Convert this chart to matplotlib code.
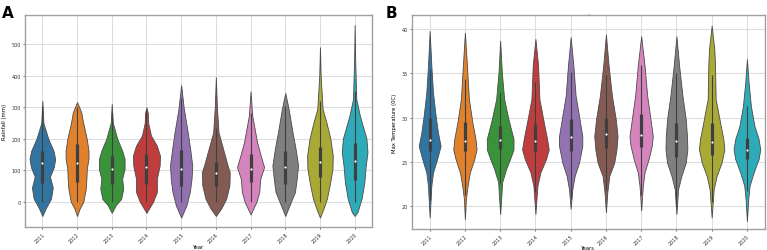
import numpy as np
import matplotlib
matplotlib.use("Agg")
import matplotlib.pyplot as plt

years = ["2011", "2012", "2013", "2014", "2015", "2016", "2017", "2018", "2019", "2020"]
colors = ["#3274a1", "#e1812c", "#3a923a", "#c03d3e", "#9372b2",
          "#845b53", "#d684bd", "#7f7f7f", "#a9aa35", "#2eabb8"]

# ---- Panel A: rainfall density profiles (value, half-width) ----
rain_levels = [
    [-45, -20, 10, 45, 80, 110, 136, 162, 200, 250, 320],
    [-45, -20, 0, 41, 73, 104, 136, 162, 199, 253, 284, 316],
    [-35, -10, 9, 41, 73, 104, 136, 162, 199, 250, 310],
    [-35, 0, 31, 73, 115, 146, 178, 210, 250, 280, 300],
    [-50, -12, 31, 73, 115, 167, 220, 295, 370],
    [-45, -22, 10, 52, 94, 115, 167, 220, 300, 395],
    [-40, 0, 31, 73, 110, 136, 188, 273, 350],
    [-45, -12, 31, 73, 115, 167, 220, 295, 345],
    [-50, -22, 10, 52, 104, 146, 200, 250, 294, 400, 490],
    [-45, -33, 10, 62, 115, 157, 200, 273, 325, 450, 560],
]
rain_widths = [
    [0, 0.10, 0.25, 0.30, 0.22, 0.33, 0.37, 0.32, 0.17, 0.03, 0],
    [0, 0.08, 0.18, 0.25, 0.27, 0.28, 0.33, 0.33, 0.28, 0.17, 0.12, 0],
    [0, 0.12, 0.27, 0.33, 0.30, 0.37, 0.37, 0.30, 0.16, 0.03, 0],
    [0, 0.19, 0.30, 0.30, 0.38, 0.39, 0.30, 0.13, 0.05, 0.04, 0],
    [0, 0.15, 0.25, 0.30, 0.32, 0.26, 0.19, 0.077, 0],
    [0, 0.15, 0.30, 0.39, 0.40, 0.34, 0.21, 0.077, 0.03, 0],
    [0, 0.17, 0.25, 0.28, 0.39, 0.32, 0.19, 0.048, 0],
    [0, 0.12, 0.28, 0.33, 0.37, 0.30, 0.21, 0.096, 0],
    [0, 0.10, 0.20, 0.28, 0.36, 0.37, 0.30, 0.19, 0.077, 0.02, 0],
    [0, 0.08, 0.20, 0.28, 0.32, 0.37, 0.34, 0.15, 0.048, 0.015, 0],
]
rain_q1 = [60, 62, 55, 55, 50, 50, 62, 57, 78, 70]
rain_med = [122, 123, 105, 110, 105, 90, 105, 110, 125, 130]
rain_q3 = [160, 183, 145, 150, 165, 125, 150, 160, 175, 185]
rain_wlo = [0, 0, 0, 0, 0, 0, 0, 0, 0, 0]
rain_whi = [300, 300, 280, 290, 330, 235, 280, 305, 320, 350]

# ---- Panel B: max temperature density profiles ----
temp_levels = [
    [18.7, 20.8, 22.3, 23.8, 25.3, 26.8, 28.3, 30.2, 32.8, 35.9, 39.8],
    [18.5, 20.8, 22.3, 23.8, 25.3, 26.4, 27.6, 29.5, 32.1, 35.9, 39.6],
    [19.1, 20.8, 22.7, 24.2, 25.3, 26.4, 27.6, 29.8, 32.1, 35.1, 38.7],
    [19.1, 22.3, 23.8, 25.3, 26.4, 27.6, 29.5, 32.1, 35.9, 38.9],
    [19.7, 21.9, 23.4, 24.9, 26.8, 27.9, 30.2, 32.5, 35.9, 39.1],
    [19.3, 21.5, 23.4, 24.9, 26.4, 27.9, 29.8, 32.5, 35.9, 39.4],
    [19.5, 22.3, 23.8, 25.3, 26.8, 27.9, 29.8, 32.5, 35.9, 39.2],
    [19.1, 21.9, 23.4, 24.9, 26.4, 27.9, 29.8, 32.5, 35.9, 39.2],
    [18.7, 21.9, 23.4, 24.9, 26.4, 27.6, 29.5, 32.1, 35.9, 37.7, 40.4],
    [18.3, 20.8, 22.3, 23.8, 25.3, 26.4, 27.6, 29.1, 31.3, 34.0, 36.6],
]
temp_widths = [
    [0, 0.028, 0.047, 0.095, 0.21, 0.31, 0.236, 0.17, 0.095, 0.047, 0],
    [0, 0.028, 0.076, 0.14, 0.265, 0.33, 0.30, 0.21, 0.113, 0.057, 0],
    [0, 0.028, 0.057, 0.17, 0.28, 0.378, 0.378, 0.236, 0.113, 0.047, 0],
    [0, 0.057, 0.14, 0.30, 0.378, 0.33, 0.236, 0.113, 0.076, 0],
    [0, 0.047, 0.113, 0.236, 0.33, 0.33, 0.236, 0.14, 0.076, 0],
    [0, 0.038, 0.095, 0.236, 0.30, 0.33, 0.28, 0.17, 0.076, 0],
    [0, 0.047, 0.095, 0.21, 0.30, 0.33, 0.265, 0.17, 0.095, 0],
    [0, 0.047, 0.14, 0.265, 0.31, 0.30, 0.265, 0.17, 0.076, 0],
    [0, 0.057, 0.14, 0.28, 0.36, 0.33, 0.236, 0.113, 0.095, 0.076, 0],
    [0, 0.038, 0.076, 0.19, 0.33, 0.378, 0.33, 0.21, 0.113, 0.047, 0],
]
temp_q1 = [26.2, 26.2, 26.4, 26.2, 26.2, 26.6, 26.7, 25.6, 25.8, 25.3]
temp_med = [27.5, 27.3, 27.5, 27.3, 27.8, 28.1, 28.0, 27.4, 27.2, 26.3]
temp_q3 = [29.9, 29.5, 29.0, 29.3, 29.8, 29.9, 30.4, 29.4, 29.4, 27.7]
temp_wlo = [20.7, 21.3, 22.5, 21.6, 20.8, 21.8, 21.2, 19.9, 20.4, 21.7]
temp_whi = [35.4, 34.4, 32.9, 34.0, 35.2, 34.8, 35.9, 35.1, 34.8, 31.3]


def draw_panel(ax, levels, widths, q1, med, q3, wlo, whi):
    stats = []
    for lv, wd, m in zip(levels, widths, med):
        stats.append(dict(coords=np.array(lv, float), vals=np.array(wd, float),
                          mean=m, median=m, min=lv[0], max=lv[-1]))
    pos = np.arange(len(levels))
    wmax = [2 * max(w) for w in widths]
    parts = ax.violin(stats, positions=pos, widths=wmax, showmeans=False,
                      showextrema=False, showmedians=False)
    for body, c in zip(parts["bodies"], colors):
        body.set_facecolor(c)
        body.set_edgecolor("#4a4a4a")
        body.set_linewidth(0.6)
        body.set_alpha(1)
        body.set_zorder(2)
    ax.vlines(pos, wlo, whi, color="#3f3f3f", lw=0.8, zorder=3)
    ax.vlines(pos, q1, q3, color="#3f3f3f", lw=2.3, zorder=3)
    ax.scatter(pos, med, s=2.5, color="white", zorder=4, linewidths=0)
    ax.set_xticks(pos)
    ax.set_xticklabels(years, rotation=45, ha="right", rotation_mode="anchor")
    ax.set_xlim(-0.5, len(levels) - 0.5)
    ax.grid(True, color="#dddddd", lw=0.8, zorder=0)
    ax.set_axisbelow(True)
    ax.tick_params(labelsize=3.5, length=1.5, width=0.5, pad=1.5, colors="#333333")
    for s in ax.spines.values():
        s.set_color("#a0a0a0")
        s.set_linewidth(1.0)


fig = plt.figure(figsize=(7.67, 2.51), dpi=100)
axA = fig.add_axes([0.0326, 0.0916, 0.4524, 0.8444])
axB = fig.add_axes([0.5372, 0.0837, 0.4596, 0.8523])

draw_panel(axA, rain_levels, rain_widths, rain_q1, rain_med, rain_q3, rain_wlo, rain_whi)
axA.set_ylim(-80, 592)
axA.set_yticks([0, 100, 200, 300, 400, 500])
axA.set_xlabel("Year", fontsize=3.8, labelpad=0)
axA.set_ylabel("Rainfall (mm)", fontsize=3.8, labelpad=3)

draw_panel(axB, temp_levels, temp_widths, temp_q1, temp_med, temp_q3, temp_wlo, temp_whi)
axB.set_ylim(17.4, 41.6)
axB.set_yticks([20, 25, 30, 35, 40])
axB.set_xlabel("Years", fontsize=3.8, labelpad=-0.5)
axB.set_ylabel("Max Temperature (0C)", fontsize=3.8, labelpad=3)
axB.set_title(".", fontsize=4, pad=1)

fig.text(0.003, 0.975, "A", fontsize=11, fontweight="bold", va="top", ha="left")
fig.text(0.503, 0.975, "B", fontsize=11, fontweight="bold", va="top", ha="left")

fig.savefig("out.png", dpi=100)
